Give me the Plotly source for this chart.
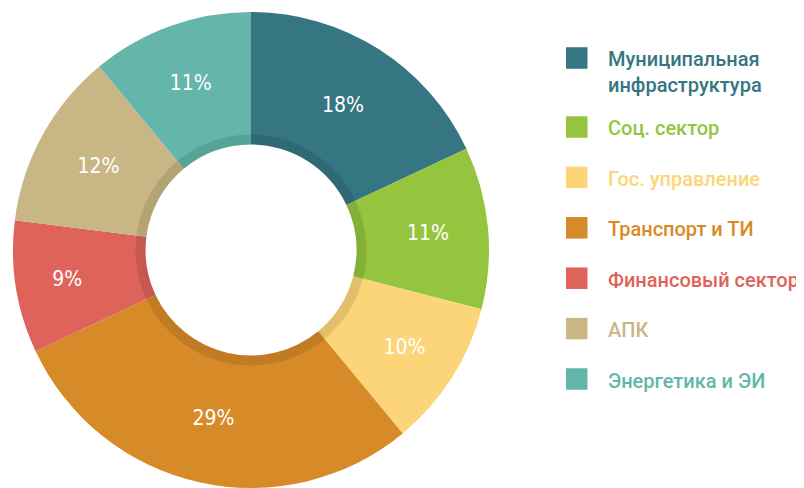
import plotly.graph_objects as go

# ---- data ----
labels = ["Муниципальная<br>инфраструктура", "Соц. сектор", "Гос. управление",
          "Транспорт и ТИ", "Финансовый сектор", "АПК", "Энергетика и ЭИ"]
values = [18, 11, 10, 29, 9, 12, 11]
colors = ["#357682", "#95c53f", "#fcd579", "#d78a28", "#de635b", "#c8b784", "#63b6a9"]

# page body has an 8px default margin; the figure fills the rest of the window
OFF = 8
W, H = 804 - OFF, 488 - OFF

def px_x(v):
    return (v - OFF) / W

def px_y(v):
    return 1 - (v - OFF) / H

# geometry (window pixels)
cx, cy, R = 251, 250, 238
hole_r = 105.5
ring_r = 115.5

fig = go.Figure()

fig.add_trace(go.Pie(
    labels=labels,
    values=values,
    sort=False,
    direction="clockwise",
    rotation=0,
    hole=hole_r / R,
    marker=dict(colors=colors, line=dict(width=0)),
    texttemplate="%{value}%",
    textposition="inside",
    insidetextorientation="horizontal",
    textfont=dict(family="Liberation Sans Narrow, DejaVu Sans Condensed, sans-serif",
                  size=21, color="white", weight=500),
    domain=dict(x=[px_x(cx - R), px_x(cx + R)], y=[max(0, px_y(cy + R)), px_y(cy - R)]),
    showlegend=False,
    hoverinfo="label+percent",
))

# inner shadow ring
fig.add_trace(go.Pie(
    values=[1],
    labels=["ring"],
    hole=hole_r / ring_r,
    marker=dict(colors=["rgba(0,0,0,0.10)"], line=dict(width=0)),
    textinfo="none",
    hoverinfo="skip",
    showlegend=False,
    sort=False,
    domain=dict(x=[px_x(cx - ring_r), px_x(cx + ring_r)],
                y=[px_y(cy + ring_r), px_y(cy - ring_r)]),
))

# custom legend
shapes = []
annotations = []
sq = 21.5
sq_x = 566
txt_x = 606
y_first = 58
y_second = 127
step = 50.4
for i, (lab, col) in enumerate(zip(labels, colors)):
    yc = y_first if i == 0 else y_second + step * (i - 1)
    shapes.append(dict(type="rect", xref="paper", yref="paper",
                       x0=px_x(sq_x), x1=px_x(sq_x + sq),
                       y0=px_y(yc + sq / 2), y1=px_y(yc - sq / 2),
                       fillcolor=col, line=dict(width=0)))
    if "<br>" in lab:
        ty, yanchor = yc - 13, "top"
    else:
        ty, yanchor = yc + 1.5, "middle"
    annotations.append(dict(text=lab, xref="paper", yref="paper",
                            x=px_x(txt_x), y=px_y(ty), xanchor="left", yanchor=yanchor,
                            align="left", showarrow=False,
                            font=dict(family="Roboto, sans-serif", size=20, color=col,
                                      weight=500)))

fig.update_layout(
    width=W, height=H, autosize=False,
    margin=dict(l=0, r=0, t=0, b=0),
    paper_bgcolor="white", plot_bgcolor="white",
    shapes=shapes, annotations=annotations,
    showlegend=False,
)

fig.write_html("out.html")
